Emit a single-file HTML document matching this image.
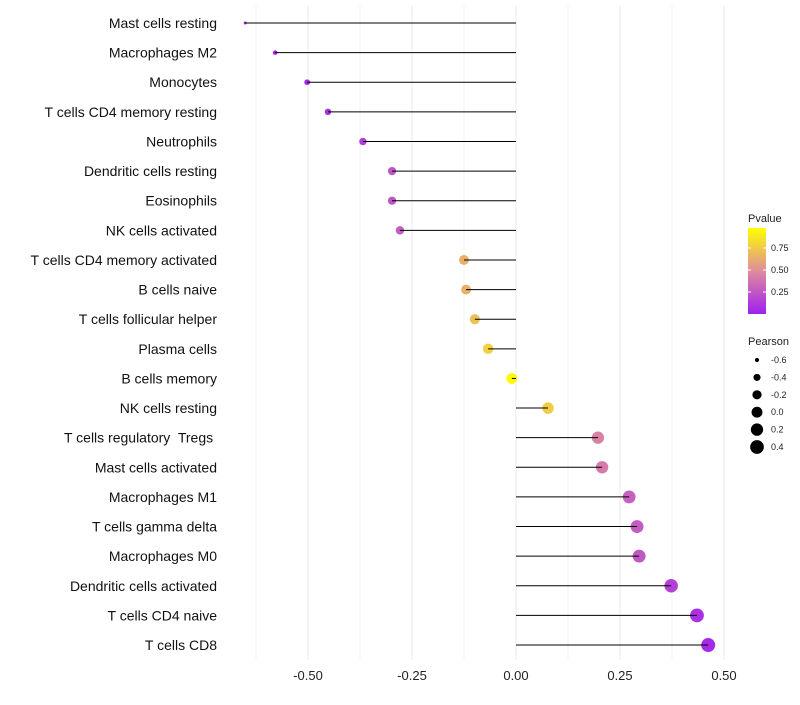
<!DOCTYPE html>
<html><head><meta charset="utf-8"><style>
body{margin:0;background:#fff;font-family:"Liberation Sans",sans-serif}
svg text{font-family:"Liberation Sans",sans-serif;white-space:pre}
</style></head><body>
<svg id="chart" width="800" height="700" xmlns="http://www.w3.org/2000/svg">
<defs><linearGradient id="pg" x1="0" y1="1" x2="0" y2="0">
<stop offset="0" stop-color="#A020F0"/><stop offset="0.5" stop-color="#DE8C9C"/><stop offset="1" stop-color="#FFFF00"/></linearGradient></defs>
<g id="grid"></g>
<g id="marks"></g>
<g id="ylabels"></g>
<g id="xlabels"></g>
<g>
<text x="748" y="222" font-size="11" fill="#222">Pvalue</text>
<rect x="748" y="228" width="18" height="86" fill="url(#pg)"/>
<g id="pticks"></g>
</g>
<g id="slegend">
<text x="748" y="345" font-size="11" fill="#222">Pearson</text>
</g>
</svg>
<script>
const categories=["Mast cells resting","Macrophages M2","Monocytes","T cells CD4 memory resting","Neutrophils","Dendritic cells resting","Eosinophils","NK cells activated","T cells CD4 memory activated","B cells naive","T cells follicular helper","Plasma cells","B cells memory","NK cells resting","T cells regulatory  Tregs ","Mast cells activated","Macrophages M1","T cells gamma delta","Macrophages M0","Dendritic cells activated","T cells CD4 naive","T cells CD8"];
const pearson=[-0.651,-0.579,-0.502,-0.452,-0.368,-0.298,-0.298,-0.279,-0.125,-0.120,-0.099,-0.067,-0.010,0.077,0.197,0.207,0.272,0.291,0.296,0.373,0.435,0.462];
const pvalue=[0.01,0.02,0.05,0.08,0.15,0.25,0.25,0.28,0.65,0.65,0.72,0.8,0.98,0.78,0.45,0.42,0.3,0.28,0.26,0.15,0.08,0.05];
const xTicks=[-0.5,-0.25,0,0.25,0.5];
const xTickLabels=["-0.50","-0.25","0.00","0.25","0.50"];
const pTicks=[0.25,0.5,0.75];
const sizeKeys=[-0.6,-0.4,-0.2,0.0,0.2,0.4];
const NS="http://www.w3.org/2000/svg";
const X=v=>516+v*416;
const Y=i=>23+i*29.62;
const R=v=>Math.sqrt(2.25+Math.max(0,(v+0.65))/1.11*46.75);
function lerp(a,b,t){return a.map((c,i)=>Math.round(c+(b[i]-c)*t));}
function col(p){const s=[[160,32,240],[222,140,156],[255,255,0]];const c=p<0.5?lerp(s[0],s[1],p/0.5):lerp(s[1],s[2],(p-0.5)/0.5);return `rgb(${c})`;}
function mk(tag,attrs,parent){const e=document.createElementNS(NS,tag);for(const k in attrs)e.setAttribute(k,attrs[k]);parent.appendChild(e);return e;}
const grid=document.getElementById('grid'),marks=document.getElementById('marks'),yl=document.getElementById('ylabels'),xl=document.getElementById('xlabels');
for(let k=-5;k<=4;k++){const v=-0.625+k*0+ (k+5)*0.125;const major=(k+5)%2===1;const g=mk('line',{x1:X(v),x2:X(v),y1:5,y2:660,stroke:major?'#ebebeb':'#f3f3f3','stroke-width':1},grid);

}
categories.forEach((c,i)=>{
const p=mk('circle',{cx:X(pearson[i]),cy:Y(i),r:R(pearson[i]),fill:col(pvalue[i])},marks);


const l=mk('line',{x1:X(0),x2:X(pearson[i]),y1:Y(i),y2:Y(i),stroke:'#000','stroke-width':1},marks);


const t=mk('text',{x:217,y:Y(i)+5,'text-anchor':'end','font-size':14,fill:'#111'},yl);t.textContent=c;


});
xTicks.forEach((v,i)=>{const t=mk('text',{x:X(v),y:680,'text-anchor':'middle','font-size':13,fill:'#222'},xl);t.textContent=xTickLabels[i];

});
const pt=document.getElementById('pticks');
pTicks.forEach(v=>{const y=314-v*88;mk('line',{x1:748,x2:751,y1:y,y2:y,stroke:'#fff'},pt);mk('line',{x1:763,x2:766,y1:y,y2:y,stroke:'#fff'},pt);
const t=mk('text',{x:771,y:y+3,'font-size':9,fill:'#222'},pt);t.textContent=v.toFixed(2);

});
const sl=document.getElementById('slegend');
sizeKeys.forEach((v,i)=>{const y=360+i*17.4;const c=mk('circle',{cx:757,cy:y,r:R(v),fill:'#000'},sl);


const t=mk('text',{x:771,y:y+3,'font-size':9,fill:'#222'},sl);t.textContent=v.toFixed(1);

});
</script>
</body></html>
